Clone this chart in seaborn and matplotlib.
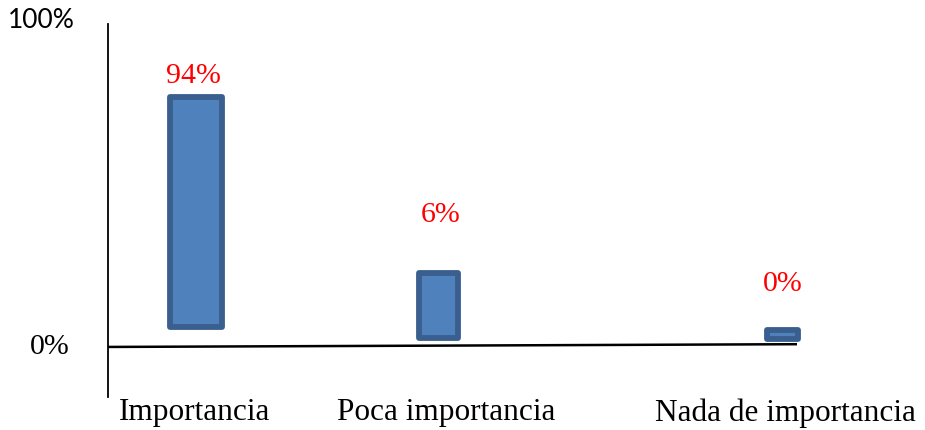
import matplotlib
matplotlib.use("Agg")
import matplotlib.pyplot as plt
import seaborn as sns
import pandas as pd

categories = ["Importancia", "Poca importancia", "Nada de importancia"]
value_labels = ["94%", "6%", "0%"]
# bar extents as drawn in the reference (percent of the 0-100% axis)
bar_low = [6.1, 2.7, 2.4]
bar_high = [77.4, 22.8, 5.2]
ytick_values = [0, 100]
ytick_labels = ["0%", "100%"]

# layout (pixel-like x units, axes spans x=108..925)
bar_centers = [196, 438.5, 782.5]
bar_widths = [52, 39, 31]
label_centers = [195, 446, 785]
value_label_x = [193, 441, 783]
value_label_y = [84, 41, 19.5]

sns.set_theme(style="white")
plt.rcParams["font.family"] = ["Liberation Serif", "DejaVu Sans"]

fig = plt.figure(figsize=(9.25, 4.3), dpi=100)
ax = fig.add_axes([108 / 925, (430 - 397) / 430, (925 - 108) / 925, (397 - 24) / 430])

df = pd.DataFrame({"cat": categories,
                   "h": [hi - lo for hi, lo in zip(bar_high, bar_low)]})
sns.barplot(data=df, x="cat", y="h", bottom=bar_low, ax=ax,
            color="#4F81BD", saturation=1, edgecolor="#3A5F8F", linewidth=4.2)

for p, c, w in zip(ax.patches, bar_centers, bar_widths):
    p.set_x(c - w / 2)
    p.set_width(w)
    p.set_joinstyle("round")

ax.set_xlim(108, 925)
ax.set_ylim(-15.5, 100)

for s in ["top", "right", "bottom"]:
    ax.spines[s].set_visible(False)
ax.spines["left"].set_color("black")
ax.spines["left"].set_linewidth(1.3)
# slightly slanted baseline, as in the reference
ax.plot([108, 797], [0, 0.85], color="black", lw=1.8, solid_capstyle="butt")

ax.set_xticks(label_centers)
ax.set_xticklabels(categories, fontsize=22.5, family=["Liberation Serif"], color="black")
ax.tick_params(axis="x", length=0, pad=1)
ax.set_yticks([])

# y tick labels drawn as text (mixed fonts in the reference)
ytr = ax.get_yaxis_transform()
ax.text(-38 / 817, ytick_values[0], ytick_labels[0], transform=ytr, ha="right",
        va="center", fontsize=21.5, color="black", family=["Liberation Serif"])
ax.text(-33 / 817, ytick_values[1] + 1, ytick_labels[1], transform=ytr, ha="right",
        va="center", fontsize=19, color="black", family=["Lato", "DejaVu Sans"])

ax.set_xlabel("")
ax.set_ylabel("")

for x, y, t in zip(value_label_x, value_label_y, value_labels):
    ax.text(x, y, t, color="red", fontsize=21.5, ha="center", va="center",
            family=["Liberation Serif"])

fig.savefig("out.png", dpi=100)
